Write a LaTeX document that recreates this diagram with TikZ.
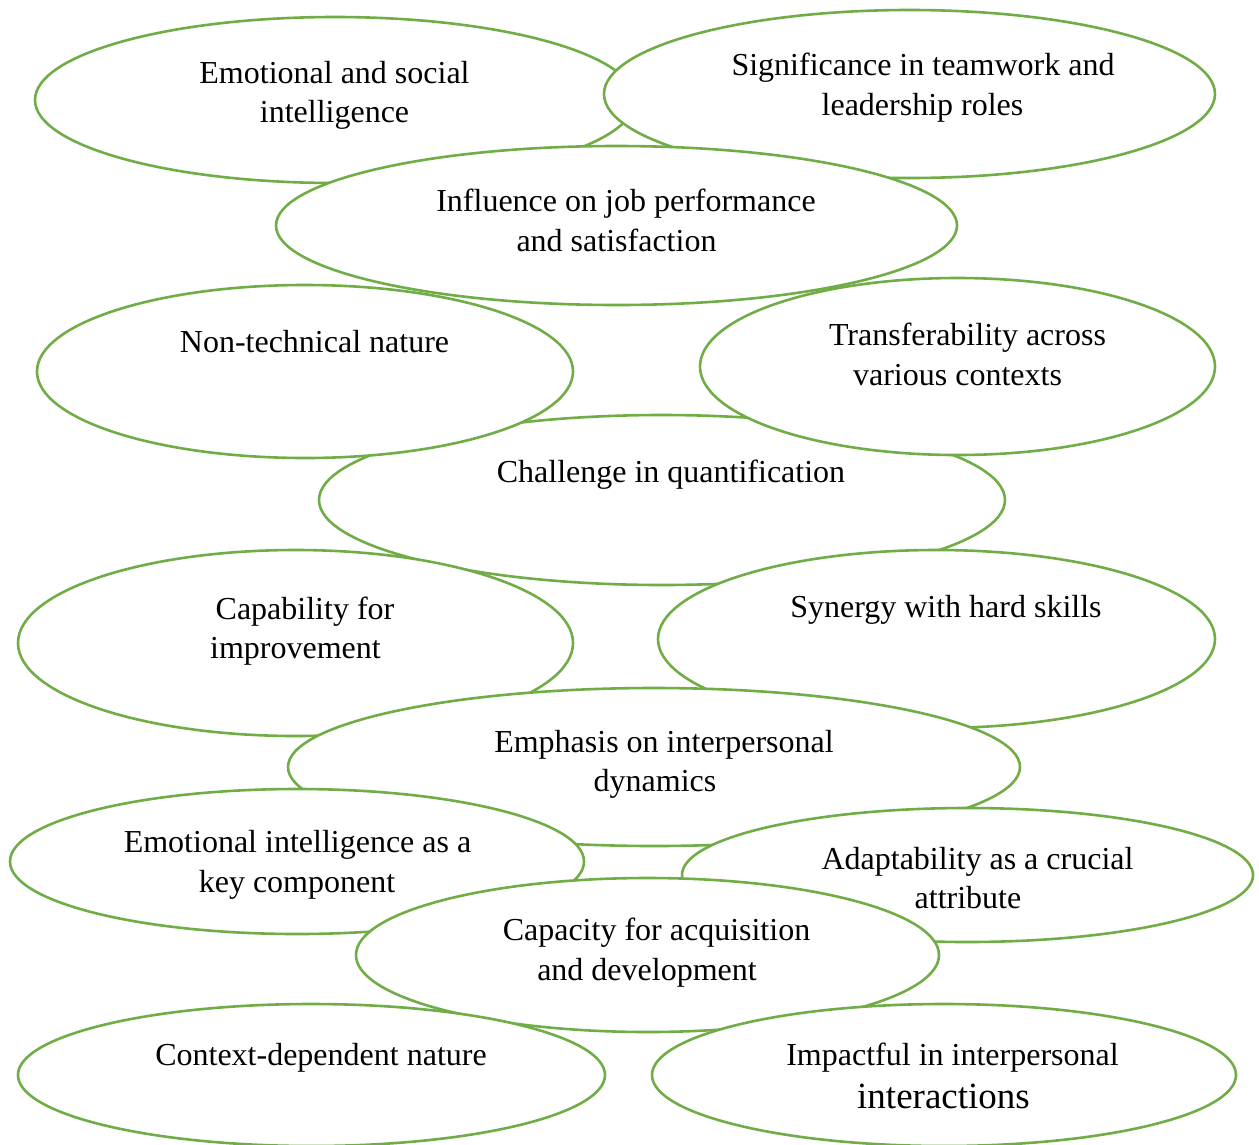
\documentclass[tikz,border=0pt]{standalone}
\usepackage{fontspec}
\setmainfont{Liberation Serif}
\usetikzlibrary{shapes.geometric}
\definecolor{ovalgreen}{HTML}{70AD47}
\tikzset{
  oval/.style={ellipse, draw=ovalgreen, fill=white, line width=2.6pt, inner sep=0pt},
  lbl/.style={anchor=base, inner sep=0pt, font=\fontsize{32}{40}\selectfont, text=black},
  biglbl/.style={anchor=base, inner sep=0pt, font=\fontsize{37}{44}\selectfont, text=black}
}
\begin{document}
\begin{tikzpicture}[x=1pt, y=-1pt]
\useasboundingbox (0,0) rectangle (1259,1144);
\fill[white] (0,0) rectangle (1259,1144);
% ellipses in stacking order
\node[oval, minimum width=600pt, minimum height=166pt] (e1) at (335,100) {};
\node[oval, minimum width=611pt, minimum height=168pt] (e2) at (909.5,94) {};
\node[oval, minimum width=681pt, minimum height=159pt] (e3) at (616.5,225.5) {};
\node[oval, minimum width=686pt, minimum height=170pt] (e6) at (662,500) {};
\node[oval, minimum width=536pt, minimum height=173pt] (e4) at (305,371.5) {};
\node[oval, minimum width=515pt, minimum height=177pt] (e5) at (957.5,366.5) {};
\node[oval, minimum width=555pt, minimum height=186pt] (e7) at (295.5,643) {};
\node[oval, minimum width=557pt, minimum height=178pt] (e8) at (936.5,639) {};
\node[oval, minimum width=732pt, minimum height=158pt] (e9) at (654,767) {};
\node[oval, minimum width=574pt, minimum height=145pt] (e10) at (297,861.5) {};
\node[oval, minimum width=571pt, minimum height=134pt] (e11) at (967.5,875) {};
\node[oval, minimum width=583pt, minimum height=154pt] (e12) at (647.5,955) {};
\node[oval, minimum width=587pt, minimum height=142pt] (e13) at (311.5,1075) {};
\node[oval, minimum width=584pt, minimum height=142pt] (e14) at (944,1075) {};
% texts
\node[lbl] (t1a) at (334.5,83) {Emotional and social};
\node[lbl] (t1b) at (334.5,122) {intelligence};
\node[lbl] (t2a) at (923,75) {Significance in teamwork and};
\node[lbl] (t2b) at (922.5,115) {leadership roles};
\node[lbl] (t3a) at (626,211) {Influence on job performance};
\node[lbl] (t3b) at (616.5,251) {and satisfaction};
\node[lbl] (t4a) at (314.5,352) {Non-technical nature};
\node[lbl] (t5a) at (967.5,345) {Transferability across};
\node[lbl] (t5b) at (957.5,385) {various contexts};
\node[lbl] (t6a) at (671,482) {Challenge in quantification};
\node[lbl] (t7a) at (305,619) {Capability for};
\node[lbl] (t7b) at (295.5,658) {improvement};
\node[lbl] (t8a) at (946,617) {Synergy with hard skills};
\node[lbl] (t9a) at (664,752) {Emphasis on interpersonal};
\node[lbl] (t9b) at (655,791) {dynamics};
\node[lbl] (t10a) at (297.5,852) {Emotional intelligence as a};
\node[lbl] (t10b) at (297,892) {key component};
\node[lbl] (t11a) at (977.5,869) {Adaptability as a crucial};
\node[lbl] (t11b) at (968,908) {attribute};
\node[lbl] (t12a) at (656.5,940) {Capacity for acquisition};
\node[lbl] (t12b) at (647,980) {and development};
\node[lbl] (t13a) at (321,1065) {Context-dependent nature};
\node[lbl] (t14a) at (952.5,1065) {Impactful in interpersonal};
\node[biglbl] (t14b) at (943.5,1108) {interactions};
\end{tikzpicture}
\end{document}
